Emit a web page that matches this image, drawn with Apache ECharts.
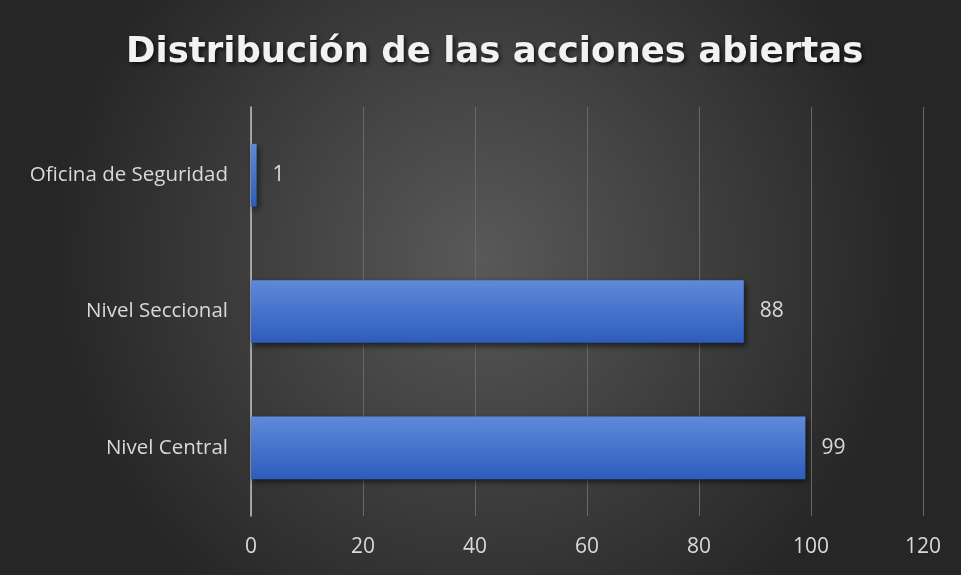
<!DOCTYPE html>
<html><head><meta charset="utf-8">
<script src="https://cdn.jsdelivr.net/npm/echarts@6/dist/echarts.min.js"></script>
<style>html,body{margin:0;padding:0;background:#333;}#c{width:961px;height:575px;}</style>
</head><body><div id="c"></div>
<script>
const categories = ['Nivel Central', 'Nivel Seccional', 'Oficina de Seguridad'];
const values = [99, 88, 1];
const xTicks = { min: 0, max: 120, interval: 20 };
const titleText = 'Distribución de las acciones abiertas';

const chart = echarts.init(document.getElementById('c'));
chart.setOption({
  backgroundColor: {
    type: 'radial', x: 0.5, y: 0.45, r: 0.75,
    colorStops: [{offset: 0, color: '#595959'}, {offset: 1, color: '#262626'}]
  },
  title: {
    text: titleText, left: 121, top: 30,
    textStyle: { color: '#f2f2f2', fontSize: 35.5, fontWeight: 'bold', fontFamily: 'DejaVu Sans',
      textShadowColor: 'rgba(0,0,0,0.7)', textShadowBlur: 4, textShadowOffsetX: 2, textShadowOffsetY: 2 }
  },
  grid: { left: 251, right: 38, top: 107, bottom: 59 },
  xAxis: {
    type: 'value', min: xTicks.min, max: xTicks.max, interval: xTicks.interval,
    axisLine: { show: false }, axisTick: { show: false },
    axisLabel: { color: '#d9d9d9', fontSize: 21, fontFamily: 'Open Sans', margin: 21 },
    splitLine: { lineStyle: { color: '#686868', width: 1 } }
  },
  yAxis: {
    type: 'category', data: categories,
    axisLine: { lineStyle: { color: '#bfbfbf', width: 1.5 } }, axisTick: { show: false },
    axisLabel: { color: '#d9d9d9', fontSize: 20.5, fontFamily: 'Open Sans', margin: 23 }
  },
  series: [{
    type: 'bar', data: values, barWidth: '46%',
    itemStyle: {
      color: { type: 'linear', x: 0, y: 0, x2: 0, y2: 1,
        colorStops: [{offset: 0, color: '#5f8ad9'}, {offset: 1, color: '#2d5cbd'}] },
      shadowColor: 'rgba(0,0,0,0.6)', shadowBlur: 6, shadowOffsetX: 2, shadowOffsetY: 3
    },
    label: { show: true, position: 'right', distance: 16, color: '#d9d9d9', fontSize: 21, fontFamily: 'Open Sans' }
  }]
});
</script></body></html>
